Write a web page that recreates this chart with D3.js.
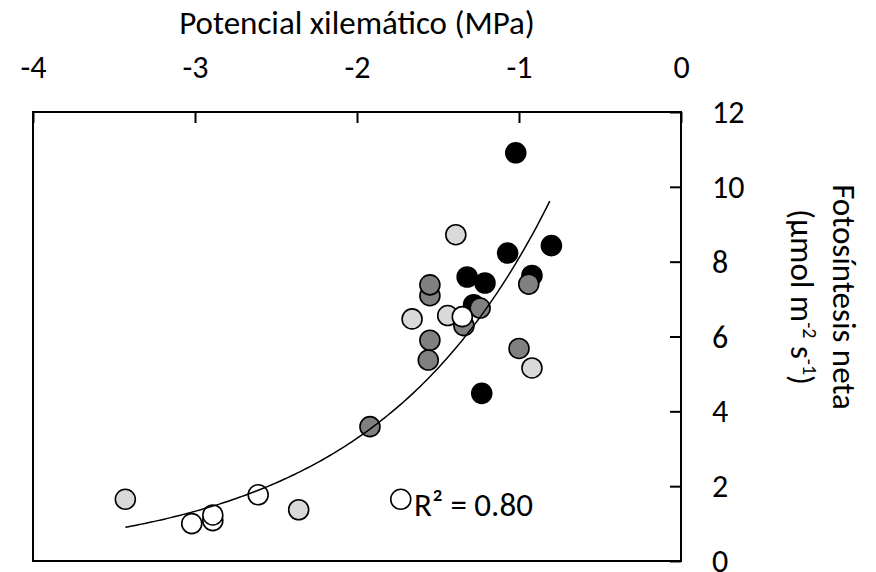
<!DOCTYPE html>
<html>
<head>
<meta charset="utf-8">
<script src="https://cdn.jsdelivr.net/npm/d3@7"></script>
<style>
    body { margin: 0; background: #fff; }
    text { font-family: Calibri, Carlito, Lato, sans-serif; fill: #000; }
</style>
</head>
<body>
<div id="chart"></div>
<script>
// series values (x = MPa, y = umol m-2 s-1)
const blackX = [-1.02, -0.80, -1.07, -1.32, -1.21, -0.92, -1.28, -1.23];
const blackY = [10.91, 8.43, 8.23, 7.59, 7.43, 7.63, 6.85, 4.48];

const darkX = [-1.55, -1.55, -0.94, -1.24, -1.34, -1.55, -1.56, -1.00, -1.92];
const darkY = [7.09, 7.38, 7.40, 6.76, 6.29, 5.90, 5.37, 5.68, 3.59];

const lightX = [-1.39, -1.66, -1.44, -0.92, -3.43, -2.36];
const lightY = [8.72, 6.47, 6.56, 5.16, 1.65, 1.37];

const whiteX = [-1.35, -2.61, -2.89, -2.89, -3.02, -1.73];
const whiteY = [6.53, 1.77, 1.08, 1.23, 1.00, 1.65];

// exponential trendline y = a * exp(b * x)
const trendA = 20.0;
const trendB = 0.904;
const trendDomain = [-3.43, -0.80];

const xTicks = [-4, -3, -2, -1, 0];
const yTicks = [0, 2, 4, 6, 8, 10, 12];

const series = [
    { x: blackX, y: blackY, fill: '#000000' },
    { x: darkX, y: darkY, fill: '#808080' },
    { x: lightX, y: lightY, fill: '#d9d9d9' },
    { x: whiteX, y: whiteY, fill: '#ffffff' }
];

const width = 876;
const height = 572;
const margin = { top: 112, right: 195, bottom: 11, left: 33 };

const svg = d3.select('#chart')
    .append('svg')
    .attr('width', width)
    .attr('height', height);

const x = d3.scaleLinear().domain([-4, 0]).range([margin.left, width - margin.right]);
const y = d3.scaleLinear().domain([0, 12]).range([height - margin.bottom, margin.top]);

// points
series.forEach(s => {
    svg.append('g')
        .selectAll('circle')
        .data(s.x.map((v, i) => ({ x: v, y: s.y[i] })))
        .enter()
        .append('circle')
        .attr('cx', d => x(d.x))
        .attr('cy', d => y(d.y))
        .attr('r', 10)
        .attr('fill', s.fill)
        .attr('stroke', '#000')
        .attr('stroke-width', 1.6);
});

// trendline
let trendPts = d3.range(trendDomain[0], trendDomain[1] + 0.001, 0.02)
    .map(v => ({ x: v, y: trendA * Math.exp(trendB * v) }));

svg.append('path')
    .datum(trendPts)
    .attr('d', d3.line().x(d => x(d.x)).y(d => y(d.y)))
    .attr('fill', 'none')
    .attr('stroke', '#000')
    .attr('stroke-width', 1.5);

// plot border
svg.append('rect')
    .attr('x', x(-4))
    .attr('y', y(12))
    .attr('width', x(0) - x(-4))
    .attr('height', y(0) - y(12))
    .attr('fill', 'none')
    .attr('stroke', '#000')
    .attr('stroke-width', 2);

// top axis, ticks inside
const xAxis = d3.axisTop(x)
    .tickValues(xTicks)
    .tickSizeInner(-11)
    .tickSizeOuter(0)
    .tickPadding(0);

const gx = svg.append('g')
    .attr('transform', `translate(0, ${y(12)})`)
    .call(xAxis);
gx.select('.domain').remove();
gx.selectAll('line').attr('stroke-width', 2);
gx.selectAll('text')
    .attr('y', -34)
    .attr('dy', 0)
    .style('font-size', '32px')
    .text(d => d === 0 ? '0' : '-' + Math.abs(d));

// right axis, ticks inside
const yAxis = d3.axisRight(y)
    .tickValues(yTicks)
    .tickSizeInner(-11)
    .tickSizeOuter(0)
    .tickPadding(0);

const gy = svg.append('g')
    .attr('transform', `translate(${x(0)}, 0)`)
    .call(yAxis);
gy.select('.domain').remove();
gy.selectAll('line').attr('stroke-width', 2);
gy.selectAll('text')
    .attr('x', 31)
    .attr('dy', '0.33em')
    .style('font-size', '32px');

// x title
svg.append('text')
    .attr('x', 357)
    .attr('y', 34)
    .attr('text-anchor', 'middle')
    .style('font-size', '33px')
    .text('Potencial xilemático (MPa)');

// y title, rotated clockwise
const yt = svg.append('g')
    .attr('transform', 'translate(833, 297) rotate(90)');

yt.append('text')
    .attr('x', 0)
    .attr('y', 0)
    .attr('text-anchor', 'middle')
    .style('font-size', '33px')
    .text('Fotosíntesis neta');

const yt2 = yt.append('text')
    .attr('x', 0)
    .attr('y', 42)
    .attr('text-anchor', 'middle')
    .style('font-size', '33px');
yt2.append('tspan').text('(µmol m');
yt2.append('tspan').attr('baseline-shift', 'super').style('font-size', '20px').text('-2');
yt2.append('tspan').text(' s');
yt2.append('tspan').attr('baseline-shift', 'super').style('font-size', '20px').text('-1');
yt2.append('tspan').text(')');

// R squared label
svg.append('text')
    .attr('x', 414)
    .attr('y', 516)
    .style('font-size', '33px')
    .text('R² = 0.80');
</script>
</body>
</html>
